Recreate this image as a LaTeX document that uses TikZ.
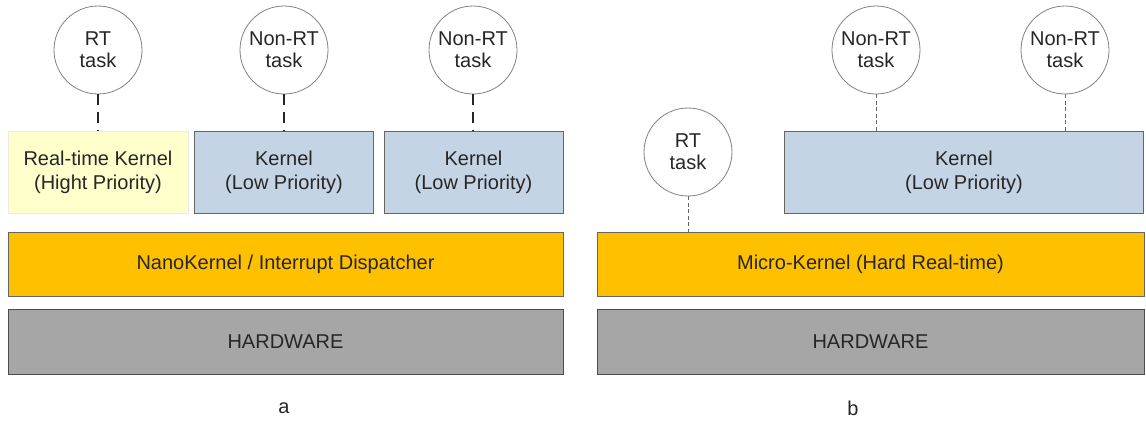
\documentclass[tikz,border=0pt]{standalone}
\usepackage{fontspec}
\setmainfont{Liberation Sans}
\begin{document}
\begin{tikzpicture}[x=1pt,y=-1pt,
  every node/.style={text=black!85, font=\fontsize{20}{24}\selectfont, align=center, inner sep=0pt},
  task/.style={circle, draw=black!50, line width=0.8pt, fill=white, minimum size=88pt, font=\fontsize{20}{22}\selectfont},
  rtkern/.style={draw=yellow!30!black!12, fill={rgb,255:red,255;green,255;blue,204}, line width=0.6pt},
  lowkern/.style={draw=black!60, fill={rgb,255:red,197;green,212;blue,228}, line width=0.8pt},
  corebar/.style={draw=black!60, fill={rgb,255:red,255;green,192;blue,0}, line width=0.8pt},
  hwbar/.style={draw=black!70, fill=black!35, line width=0.8pt},
  thicklink/.style={line width=2.6pt, black!85, dash pattern=on 11pt off 7pt},
  thinlink/.style={line width=0.7pt, black!60, dash pattern=on 4pt off 2.5pt},
  caption/.style={font=\fontsize{20}{24}\selectfont}]
\useasboundingbox (0,0) rectangle (1146,421);

% ---- (a) nanokernel with several guest kernels ----
\node[rtkern, minimum width=180pt, minimum height=82pt] (rtk) at (98,172) {Real-time Kernel\\(Hight Priority)};
\node[lowkern, minimum width=179pt, minimum height=82pt] (k1) at (284,172) {Kernel\\(Low Priority)};
\node[lowkern, minimum width=179pt, minimum height=82pt] (k2) at (473.5,172) {Kernel\\(Low Priority)};
\node[corebar, minimum width=555pt, minimum height=64pt] (nano) at (285.5,264) {NanoKernel / Interrupt Dispatcher};
\node[hwbar, minimum width=555pt, minimum height=65pt] (hwa) at (285.5,342) {HARDWARE};

\node[task] (ta1) at (98,50) {RT\\task};
\node[task] (ta2) at (284,50) {Non-RT\\task};
\node[task] (ta3) at (473,50) {Non-RT\\task};

\draw[thicklink] (ta1.south) -- (ta1.south |- rtk.north);
\draw[thicklink] (ta2.south) -- (ta2.south |- k1.north);
\draw[thicklink] (ta3.south) -- (ta3.south |- k2.north);

\node[caption] (capa) at (284,408) {a};

% ---- (b) microkernel hosting a non-RT kernel ----
\node[lowkern, minimum width=359pt, minimum height=82pt] (kb) at (964,172) {Kernel\\(Low Priority)};
\node[corebar, minimum width=547pt, minimum height=64pt] (micro) at (870.5,264) {Micro-Kernel (Hard Real-time)};
\node[hwbar, minimum width=547pt, minimum height=65pt] (hwb) at (870.5,342) {HARDWARE};

\node[task] (tb1) at (688,152) {RT\\task};
\node[task] (tb2) at (876,50) {Non-RT\\task};
\node[task] (tb3) at (1065,50) {Non-RT\\task};

\draw[thinlink] (tb1.south) -- (tb1.south |- micro.north);
\draw[thinlink] (tb2.south) -- (tb2.south |- kb.north);
\draw[thinlink] (tb3.south) -- (tb3.south |- kb.north);

\node[caption] (capb) at (853,408) {b};
\end{tikzpicture}
\end{document}
